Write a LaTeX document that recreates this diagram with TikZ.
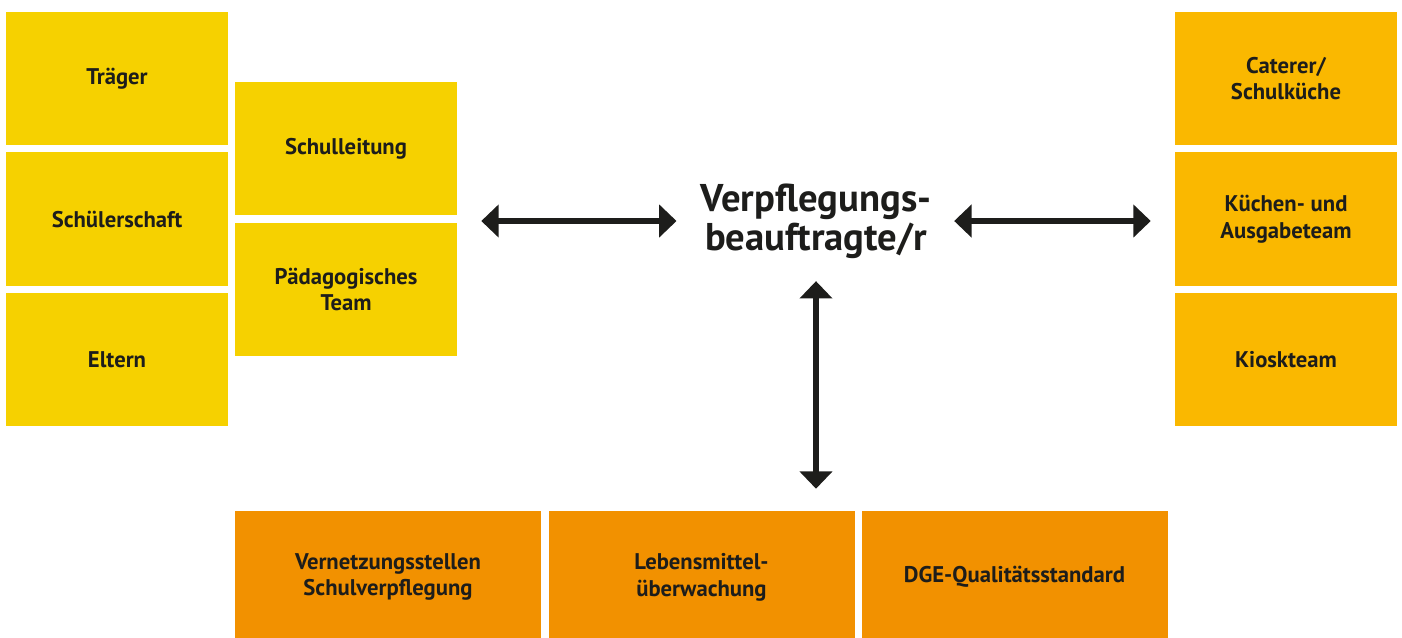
\documentclass[tikz,border=0pt]{standalone}
\usepackage{fontspec}
\setmainfont{PT Sans}
\usetikzlibrary{arrows.meta,positioning}
\definecolor{gelb}{HTML}{F6D100}
\definecolor{hellorange}{HTML}{FAB800}
\definecolor{dunkelorange}{HTML}{F29100}
\definecolor{schrift}{HTML}{1D1D1B}

\tikzset{
    kasten/.style={minimum width=166.5pt, minimum height=100pt, inner sep=0pt, align=center,
        text=schrift, font=\bfseries\fontsize{17}{20}\selectfont},
    pfeil/.style={draw=schrift, line width=4pt,
        {Triangle[length=13pt,width=24pt]}-{Triangle[length=13pt,width=24pt]}},
}

\begin{document}
\begin{tikzpicture}[x=0.75pt,y=-0.75pt]
            \useasboundingbox (0,0) rectangle (1402,637);
            % linke Spalten
            \foreach \name/\y/\txt in {tr/78.5/Träger, ss/219/Schülerschaft, el/359.5/Eltern} {
                \node[kasten, fill=gelb] (\name) at (117,\y) {\txt};
            }
            \foreach \name/\y/\txt in {sl/148.5/Schulleitung, pt/289.5/{Pädagogisches\\Team}} {
                \node[kasten, fill=gelb] (\name) at (346,\y) {\txt};
            }
            % rechte Spalte
            \foreach \name/\y/\txt in {ca/78.5/{Caterer/\\Schulküche}, kt/219/{Küchen- und\\Ausgabeteam}, ks/359.5/Kioskteam} {
                \node[kasten, fill=hellorange] (\name) at (1286,\y) {\txt};
            }
            % untere Reihe
            \foreach \name/\x/\txt in {vs/388/{Vernetzungsstellen\\Schulverpflegung}, lm/701.5/{Lebensmittel-\\überwachung}, dge/1014.5/DGE-Qualitätsstandard} {
                \node[kasten, fill=dunkelorange, minimum width=229.5pt, minimum height=99pt] (\name) at (\x,577) {\txt};
            }
            \node[inner sep=0pt, align=center, text=schrift, font=\bfseries\fontsize{29}{29}\selectfont] (vb) at (816,221) {Verpflegungs-\\beauftragte/r};
            % Pfeile
            \draw[pfeil, shorten <=18pt, shorten >=18pt] (vb.west -| sl.east) -- (vb.west);
            \draw[pfeil, shorten <=17pt, shorten >=18pt] (vb.east) -- (vb.east -| kt.west);
            \draw[pfeil, shorten <=17pt, shorten >=16.5pt] (vb.south) -- (vb.south |- lm.north);
        \end{tikzpicture}
\end{document}
